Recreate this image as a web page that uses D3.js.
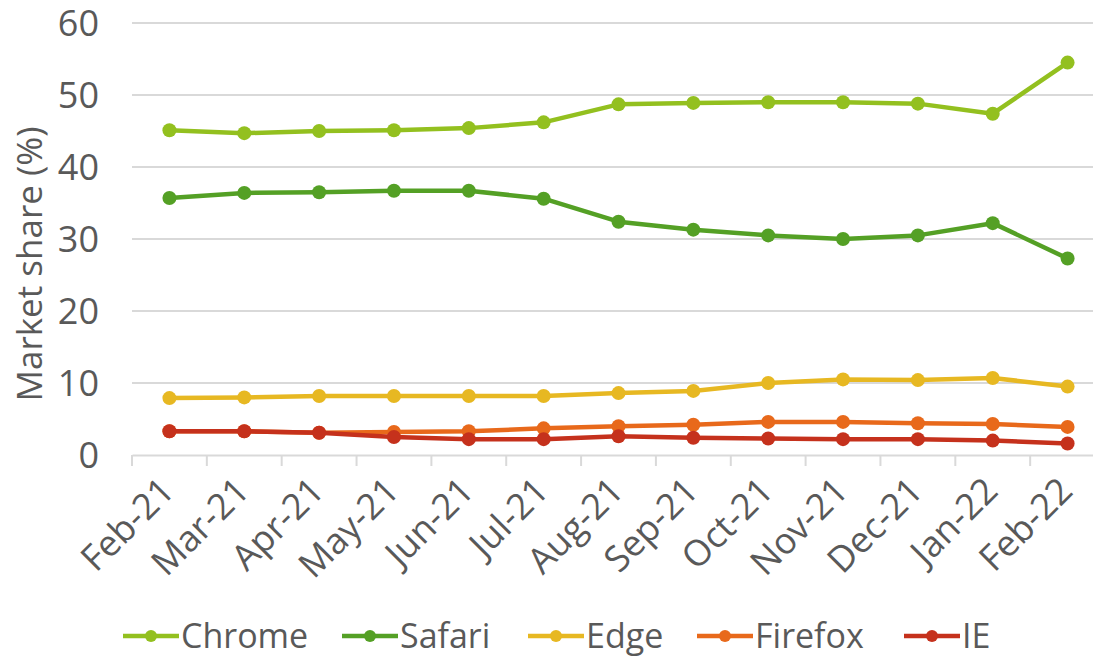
<!DOCTYPE html>
<html><head><meta charset="utf-8">
<script src="https://cdn.jsdelivr.net/npm/d3@7"></script>
<style>
html,body{margin:0;padding:0;background:#fff;}
svg{display:block;font-family:"Open Sans",sans-serif;}
</style></head>
<body><svg id="chart" width="1093" height="657"></svg>
<script>
const months = ["Feb-21","Mar-21","Apr-21","May-21","Jun-21","Jul-21","Aug-21","Sep-21","Oct-21","Nov-21","Dec-21","Jan-22","Feb-22"];
const chrome  = [45.1,44.7,45.0,45.1,45.4,46.2,48.7,48.9,49.0,49.0,48.8,47.4,54.5];
const safari  = [35.7,36.4,36.5,36.7,36.7,35.6,32.4,31.3,30.5,30.0,30.5,32.2,27.3];
const edge    = [7.9,8.0,8.2,8.2,8.2,8.2,8.6,8.9,10.0,10.5,10.4,10.7,9.5];
const firefox = [3.3,3.3,3.1,3.2,3.3,3.7,4.0,4.2,4.6,4.6,4.4,4.3,3.9];
const ie      = [3.3,3.3,3.1,2.5,2.2,2.2,2.6,2.4,2.3,2.2,2.2,2.0,1.6];
const seriesNames = ["Chrome","Safari","Edge","Firefox","IE"];
const seriesColors = ["#93C01F","#54A025","#E7B822","#E8691B","#C5311C"];
const yTicks = [0,10,20,30,40,50,60];

const series = [chrome,safari,edge,firefox,ie].map((v,i)=>({name:seriesNames[i],color:seriesColors[i],values:v}));

const svg = d3.select("#chart");
const pLeft=132, pRight=1105, pTop=23, pBottom=455;
const x = d3.scaleBand().domain(months).range([pLeft,pRight]);
const y = d3.scaleLinear().domain([0,60]).range([pBottom,pTop]);
const textColor="#595959", gridColor="#d9d9d9";

// gridlines
svg.append("g").selectAll("line").data(yTicks.filter(d=>d>0)).join("line")
  .attr("x1",pLeft).attr("x2",pRight).attr("y1",d=>y(d)).attr("y2",d=>y(d))
  .attr("stroke",gridColor).attr("stroke-width",2);

// y labels
svg.append("g").selectAll("text").data(yTicks).join("text")
  .attr("x",99).attr("y",d=>y(d)).attr("dy","0.36em").attr("text-anchor","end")
  .attr("fill",textColor).attr("font-size",36).text(d=>d);

// x axis
const xAxis = d3.axisBottom(x).tickSize(0).tickFormat("");
const xg = svg.append("g").attr("transform",`translate(0,${pBottom})`).call(xAxis);
xg.select(".domain").attr("stroke",gridColor).attr("stroke-width",2);
const bounds = months.map(m=>x(m)).concat([pRight]);
svg.append("g").selectAll("line").data(bounds).join("line")
  .attr("x1",d=>d).attr("x2",d=>d).attr("y1",pBottom).attr("y2",pBottom+11)
  .attr("stroke",gridColor).attr("stroke-width",2);

// x labels
svg.append("g").selectAll("text").data(months).join("text")
  .attr("transform",d=>`translate(${x(d)+x.bandwidth()/2+7},${pBottom+38}) rotate(-45)`)
  .attr("text-anchor","end").attr("fill",textColor).attr("font-size",36).text(d=>d);

// y title
svg.append("text").attr("transform",`translate(42,${264}) rotate(-90)`)
  .attr("text-anchor","middle").attr("fill",textColor).attr("font-size",35).text("Market share (%)");

// lines
const line = d3.line().x((d,i)=>x(months[i])+x.bandwidth()/2).y(d=>y(d));
const sg = svg.append("g").selectAll("g").data(series).join("g");
sg.append("path").attr("d",d=>line(d.values)).attr("fill","none")
  .attr("stroke",d=>d.color).attr("stroke-width",4.5).attr("stroke-linejoin","round");
sg.each(function(s){
  d3.select(this).selectAll("circle").data(s.values).join("circle")
    .attr("cx",(d,i)=>x(months[i])+x.bandwidth()/2).attr("cy",d=>y(d)).attr("r",7)
    .attr("fill",s.color);
});

// legend
const legX = [123,342,528,697,904];
const lg = svg.append("g").selectAll("g").data(series).join("g")
  .attr("transform",(d,i)=>`translate(${legX[i]},636)`);
lg.append("line").attr("x1",0).attr("x2",56).attr("y1",0).attr("y2",0)
  .attr("stroke",d=>d.color).attr("stroke-width",4.5);
lg.append("circle").attr("cx",28).attr("cy",0).attr("r",6).attr("fill",d=>d.color);
lg.append("text").attr("x",58).attr("y",0).attr("dy","0.34em").attr("fill",textColor)
  .attr("font-size",34).text(d=>d.name);
</script></body></html>
